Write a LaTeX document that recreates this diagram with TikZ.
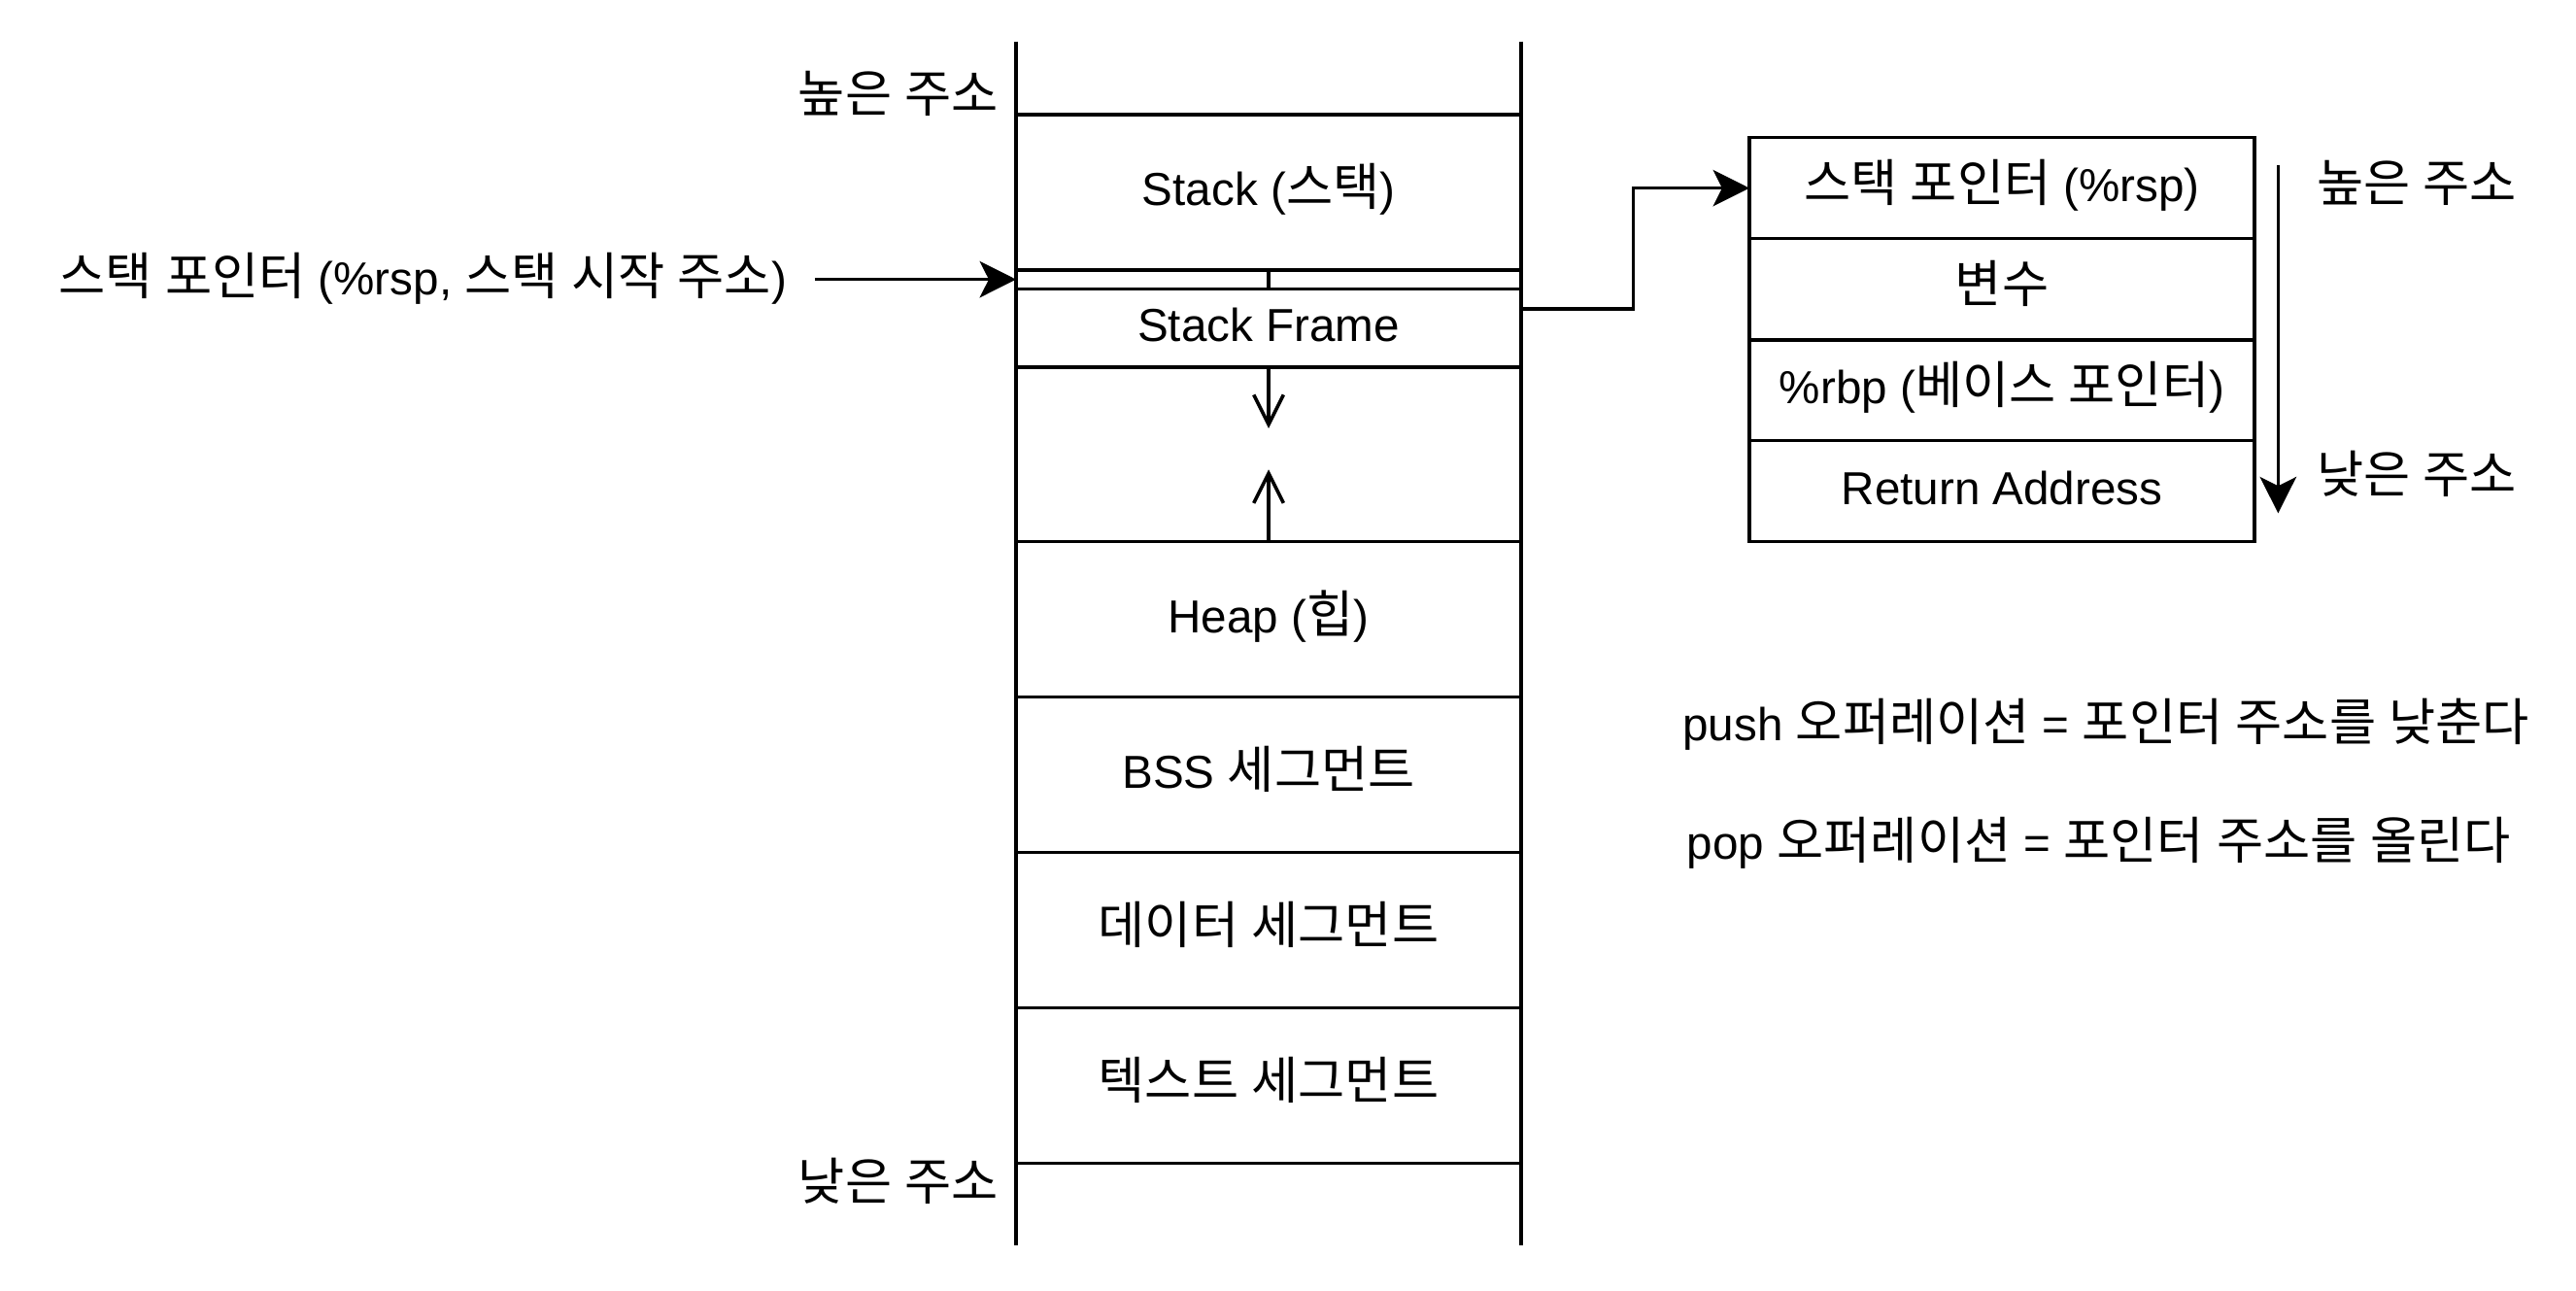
\documentclass[tikz,border=0pt]{standalone}
\usepackage{fontspec}
\setmainfont{Liberation Sans}
\newfontfamily\krf{Noto Sans CJK KR}[Scale=1.1]
\newcommand\K[1]{{\krf #1}}
\usetikzlibrary{arrows.meta}
\begin{document}
\begin{tikzpicture}[x=1pt,y=-1pt,
  every node/.style={font=\fontsize{28}{34}\selectfont, inner sep=0pt, outer sep=0pt, text height=21pt, text depth=5pt},
  ln/.style={line width=2.1pt},
  cell/.style={draw, line width=2.1pt, minimum width=305.9pt, align=center},
  lbl/.style={},
  arr/.style={line width=2.1pt, -{Stealth[length=22pt, width=22pt, inset=5.5pt]}},
  barb/.style={line width=2.1pt, -{Straight Barb[length=18pt, width=18pt]}}]
\useasboundingbox (0,0) rectangle (1560,781.2);
\fill[white] (0,0) rectangle (1560,781.2);
% main column
\node[cell, minimum height=94.1pt] (stack) at (768.25,116.5) {Stack (\K{스택})};
\node[cell, minimum width=152.95pt, minimum height=11.8pt, text height=0pt, text depth=0pt] (thinL) at (691.78,169.2) {};
\node[cell, minimum width=152.95pt, minimum height=11.8pt, text height=0pt, text depth=0pt] (thinR) at (844.73,169.2) {};
\node[cell, minimum height=47.1pt] (frame) at (768.25,198.65) {Stack Frame};
\node[cell, minimum height=105.8pt] (gap) at (768.25,275.1) {};
\node[cell, minimum height=94.1pt] (heap) at (768.25,375.05) {Heap (\K{힙})};
\node[cell, minimum height=94.1pt] (bss) at (768.25,469.15) {BSS \K{세그먼트}};
\node[cell, minimum height=94.1pt] (data) at (768.25,563.3) {\K{데이터} \K{세그먼트}};
\node[cell, minimum height=94.1pt] (textseg) at (768.25,657.45) {\K{텍스트} \K{세그먼트}};
\draw[ln] (615.3,25.1) -- (615.3,754);
\draw[ln] (921.2,25.1) -- (921.2,754);
% left labels
\node[lbl] (hiL) at (544,60.2) {\K{높은} \K{주소}};
\node[lbl] (loL) at (544,719) {\K{낮은} \K{주소}};
\node[lbl] (plabel) at (256,170.6) {\K{스택} \K{포인터} (\%rsp, \K{스택} \K{시작} \K{주소})};
\draw[arr, shorten <=17pt] (plabel.east |- thinL.west) -- (thinL.west);
% growth arrows
\coordinate (dtip) at (768.25,259.4);
\coordinate (utip) at (768.25,284.3);
\draw[barb] (gap.north) -- (dtip);
\draw[barb] (gap.south) -- (utip);
% right box
\node[cell, minimum height=61.2pt] (rsp) at (1212.35,113.9) {\K{스택} \K{포인터} (\%rsp)};
\node[cell, minimum height=61.4pt] (var) at (1212.35,175.2) {\K{변수}};
\node[cell, minimum height=60.8pt] (rbp) at (1212.35,236.3) {\%rbp (\K{베이스} \K{포인터})};
\node[cell, minimum height=61.3pt] (ret) at (1212.35,297.35) {Return Address};
\draw[arr] ([yshift=11.7pt]frame.east) -- ++(68,0) |- (rsp.west);
% right address arrow
\coordinate (rtop) at (1379.6,100);
\coordinate (rbot) at (1379.6,310.8);
\draw[arr] (rtop) -- (rbot);
\node[lbl] (hiR) at (1463.5,114.1) {\K{높은} \K{주소}};
\node[lbl] (loR) at (1463.5,290.6) {\K{낮은} \K{주소}};
% notes
\node[lbl] (push) at (1275.4,440.4) {push \K{오퍼레이션} = \K{포인터} \K{주소를} \K{낮춘다}};
\node[lbl] (pop) at (1271,512.2) {pop \K{오퍼레이션} = \K{포인터} \K{주소를} \K{올린다}};
\end{tikzpicture}
\end{document}
